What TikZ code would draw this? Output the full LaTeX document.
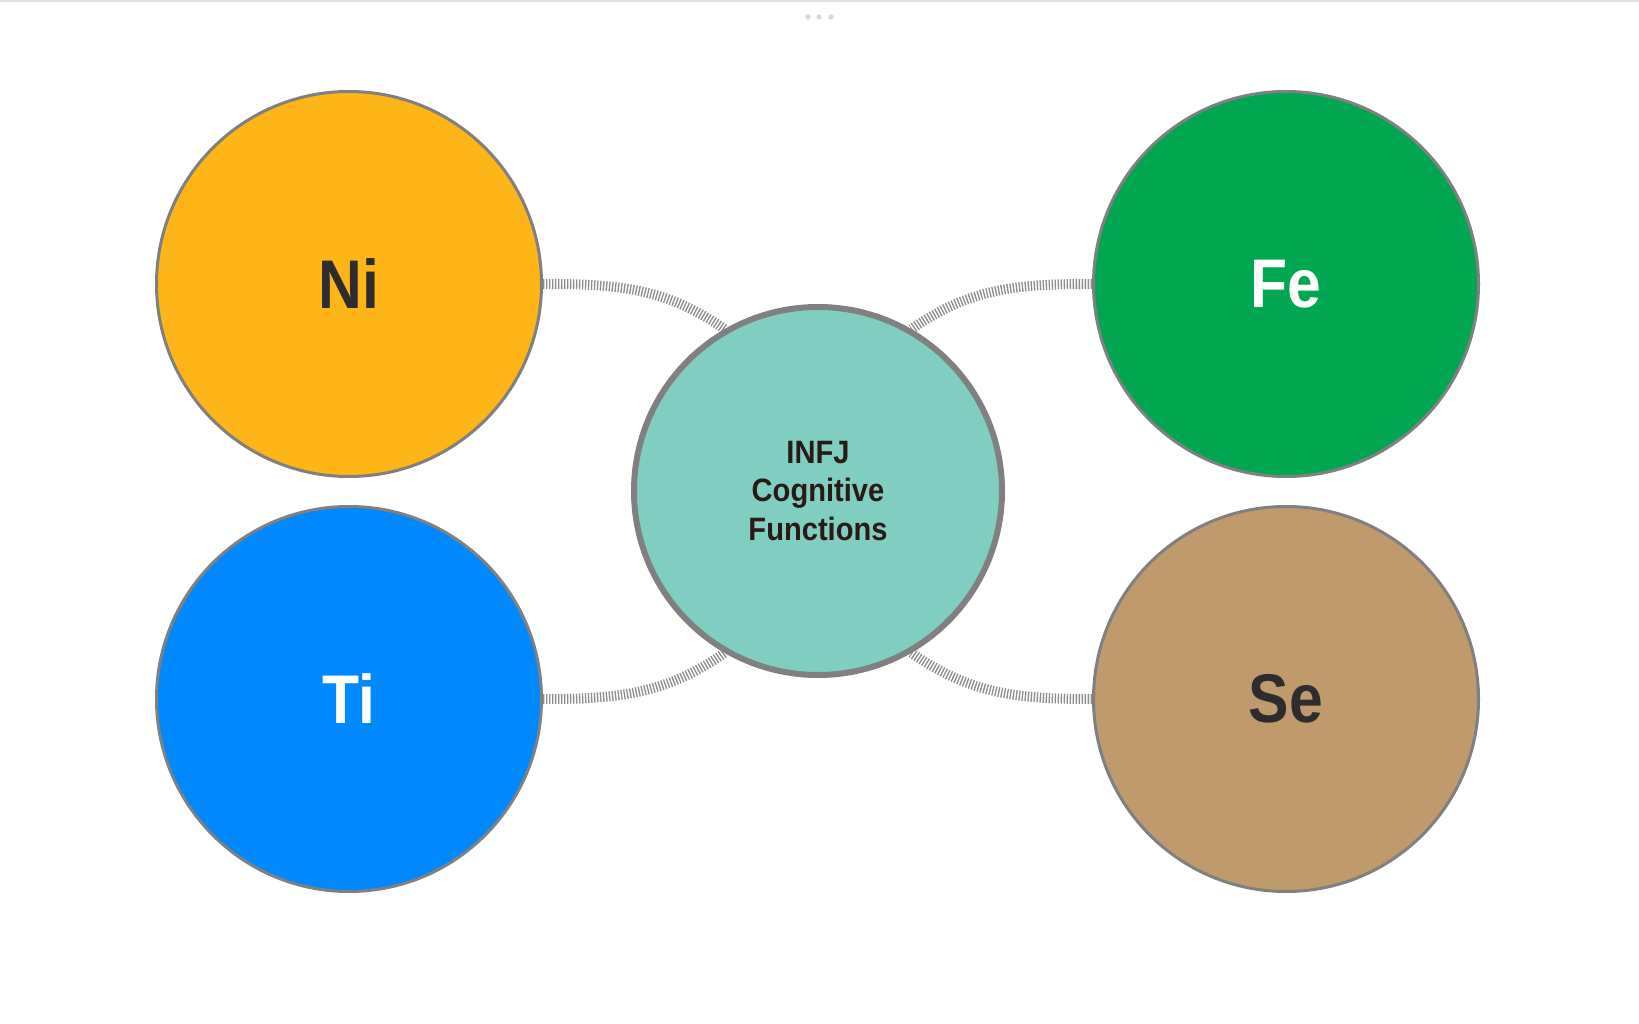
\documentclass[tikz,border=0pt]{standalone}
\usepackage{fontspec}
\setmainfont{Liberation Sans}
\newfontfamily\bubblefont[FakeStretch=0.88]{Liberation Sans}
\newfontfamily\corefont[FakeStretch=0.9]{Liberation Sans}
\usetikzlibrary{backgrounds}

\definecolor{nicolor}{RGB}{253,181,23}
\definecolor{fecolor}{RGB}{0,166,80}
\definecolor{ticolor}{RGB}{0,136,255}
\definecolor{secolor}{RGB}{191,154,108}
\definecolor{corecolor}{RGB}{128,205,193}
\definecolor{ringgray}{RGB}{128,128,128}
\definecolor{linkgray}{RGB}{140,140,140}
\definecolor{darktext}{RGB}{45,45,45}
\definecolor{coretext}{RGB}{42,26,22}
\definecolor{topgray}{RGB}{226,226,226}

\begin{document}
\begin{tikzpicture}[x=0.25mm, y=-0.25mm,
        bubble/.style={circle, draw=ringgray, line width=0.75mm, minimum size=96.25mm, inner sep=0pt,
          font=\bubblefont\bfseries\fontsize{49}{60}\selectfont},
        link/.style={draw=linkgray, line width=2.5mm, dash pattern=on 0.33mm off 0.42mm}
      ]
      \useasboundingbox (0,0) rectangle (1639,1024);

      \node [bubble, fill=nicolor, text=darktext] (ni) at (349,284) {Ni};
      \node [bubble, fill=fecolor, text=white] (fe) at (1286,284) {Fe};
      \node [bubble, fill=ticolor, text=white] (ti) at (349,699) {Ti};
      \node [bubble, fill=secolor, text=darktext] (se) at (1286,699) {Se};
      \node [circle, draw=ringgray, line width=1.5mm, minimum size=92mm, inner sep=0pt,
        fill=corecolor, text=coretext, align=center,
        font=\corefont\bfseries\fontsize{23}{27.7}\selectfont] (core) at (818,491)
        {INFJ\\Cognitive\\Functions};

      \begin{scope}[on background layer]
        \fill[white] (0,0) rectangle (1639,1024);
        \draw[topgray, line width=0.6mm] (0,1) -- (1639,1);
        \foreach \x in {808,819,831}
          \fill[topgray!90!gray] (\x,17) circle (0.65mm);
        \draw[link] (ni.east) to[out=0, in=145] (core.120);
        \draw[link] (fe.west) to[out=180, in=35] (core.60);
        \draw[link] (ti.east) to[out=0, in=-145] (core.-120);
        \draw[link] (se.west) to[out=180, in=-35] (core.-60);
      \end{scope}
    \end{tikzpicture}
\end{document}
